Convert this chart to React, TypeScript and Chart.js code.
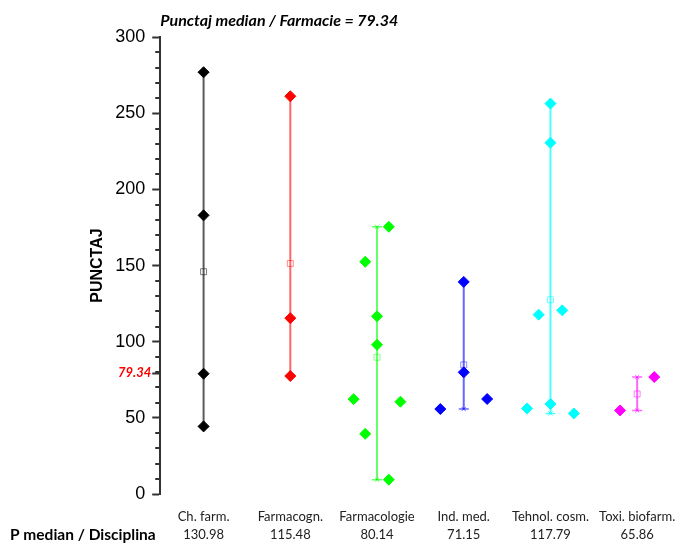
import React, { useEffect, useRef } from 'react';
import { Chart, registerables } from 'chart.js';

Chart.register(...registerables);

// ---- data ----
const categories = ['Ch. farm.', 'Farmacogn.', 'Farmacologie', 'Ind. med.', 'Tehnol. cosm.', 'Toxi. biofarm.'];
const medianLabels = ['130.98', '115.48', '80.14', '71.15', '117.79', '65.86'];
const overallMedian = 79.34;
const yTickValues = [0, 50, 100, 150, 200, 250, 300];
const yMinorValues = [10, 20, 30, 40, 60, 70, 80, 90, 110, 120, 130, 140, 160, 170, 180, 190, 210, 220, 230, 240, 260, 270, 280, 290];

const chFarm = [277, 183, 79, 44.4];
const chFarmJitter = [0, 0, 0, 0];
const farmacogn = [261.2, 115.5, 77.5];
const farmacognJitter = [0, 0, 0];
const farmacologie = [175.5, 152.5, 116.7, 98, 62.3, 60.6, 39.5, 9.4];
const farmacologieJitter = [0.136, -0.136, 0, 0, -0.27, 0.27, -0.136, 0.136];
const indMed = [139.3, 79.9, 55.8, 62.4];
const indMedJitter = [0, 0, -0.27, 0.27];
const tehnolCosm = [256.4, 230.7, 117.8, 120.6, 59.1, 56.2, 52.9];
const tehnolCosmJitter = [0, 0, -0.136, 0.136, 0, -0.27, 0.27];
const toxiBiofarm = [54.9, 76.8];
const toxiBiofarmJitter = [-0.197, 0.197];
const means = [146, 151.4, 89.8, 84.8, 127.6, 65.7];

const groups = [chFarm, farmacogn, farmacologie, indMed, tehnolCosm, toxiBiofarm];
const jitters = [chFarmJitter, farmacognJitter, farmacologieJitter, indMedJitter, tehnolCosmJitter, toxiBiofarmJitter];

// ---- styles ----
const colors = ['#000000', '#ff0000', '#00ff00', '#0000ff', '#00ffff', '#ff00ff'];
const lineColors = [
  'rgba(0,0,0,0.65)',
  'rgba(255,0,0,0.6)',
  'rgba(0,255,0,0.6)',
  'rgba(0,0,255,0.6)',
  'rgba(0,255,255,0.7)',
  'rgba(255,0,255,0.6)',
];
const meanColors = [
  'rgba(0,0,0,0.5)',
  'rgba(255,0,0,0.45)',
  'rgba(0,255,0,0.45)',
  'rgba(0,0,255,0.45)',
  'rgba(0,255,255,0.55)',
  'rgba(255,0,255,0.5)',
];

const X_AXIS_HEIGHT = 49;
const X_TICK_PADDING = 13;
const X_LINE_HEIGHT = 13 * 1.45;
const Y_TICK_LENGTH = 8;
const Y_MINOR_LENGTH = 5;

const extrasPlugin = {
  id: 'extras',
  afterDraw(chart: any) {
    const xs = chart.scales.x;
    const ys = chart.scales.y;
    const ctx = chart.ctx;
    const axisX = chart.chartArea.left;
    ctx.save();
    // minor ticks on the y axis
    ctx.fillStyle = '#333333';
    yMinorValues.forEach((v) => {
      const py = Math.round(ys.getPixelForValue(v));
      ctx.fillRect(axisX - Y_MINOR_LENGTH, py - 1, Y_MINOR_LENGTH, 2);
    });
    // overall median label, set tight against its tick
    ctx.font = 'italic bold 13px Lato';
    ctx.fillStyle = '#ff0000';
    ctx.textAlign = 'right';
    ctx.textBaseline = 'middle';
    ctx.fillText(String(overallMedian), axisX - Y_TICK_LENGTH - 1, ys.getPixelForValue(overallMedian));
    // row header
    ctx.font = 'bold 15.5px Lato';
    ctx.fillStyle = '#000';
    ctx.textAlign = 'left';
    ctx.fillText('P median / Disciplina', 10, xs.top + X_TICK_PADDING + X_LINE_HEIGHT * 1.5);
    ctx.restore();
  },
};

export default function App() {
  const ref = useRef<HTMLCanvasElement>(null);

  useEffect(() => {
    if (!ref.current) return;
    const pointSets: any[] = [];
    const meanSets: any[] = [];
    const whiskerSets: any[] = [];
    const capSets: any[] = [];
    groups.forEach((vals, i) => {
      const lo = Math.min(...vals);
      const hi = Math.max(...vals);
      pointSets.push({
        data: vals.map((v, k) => ({ x: i + jitters[i][k], y: v })),
        pointStyle: 'rectRot',
        pointRadius: 5.5,
        backgroundColor: colors[i],
        borderColor: colors[i],
        borderWidth: 1,
        order: 0,
      });
      meanSets.push({
        data: [{ x: i, y: means[i] }],
        pointStyle: 'rect',
        pointRadius: 4.2,
        backgroundColor: 'rgba(0,0,0,0)',
        borderColor: meanColors[i],
        borderWidth: 1,
        order: 1,
      });
      whiskerSets.push({
        data: [{ x: i, y: lo }, { x: i, y: hi }],
        showLine: true,
        borderColor: lineColors[i],
        borderWidth: 2,
        pointStyle: 'line',
        pointRadius: 5,
        pointBorderColor: lineColors[i],
        pointBorderWidth: 1.5,
        order: 2,
      });
      capSets.push({
        data: [{ x: i, y: lo }, { x: i, y: hi }],
        pointStyle: 'crossRot',
        pointRadius: 3,
        borderColor: lineColors[i],
        borderWidth: 1,
        order: 2,
      });
    });

    const chart = new Chart(ref.current, {
      type: 'scatter',
      data: { datasets: [...pointSets, ...meanSets, ...capSets, ...whiskerSets] },
      options: {
        animation: false,
        responsive: false,
        layout: { padding: { left: 81, right: 2, top: 0, bottom: 0 } },
        plugins: {
          legend: { display: false },
          tooltip: { enabled: false },
          title: {
            display: true,
            text: 'Punctaj median / Farmacie = 79.34',
            align: 'start',
            fullSize: false,
            color: '#000',
            font: { family: 'Lato', size: 16, weight: 'bold', style: 'italic' },
            padding: { top: 11, bottom: 7 },
          },
        },
        scales: {
          x: {
            type: 'linear',
            min: -0.5,
            max: 5.5,
            afterBuildTicks: (s: any) => {
              s.ticks = categories.map((_, i) => ({ value: i }));
            },
            afterFit: (s: any) => {
              s.height = X_AXIS_HEIGHT;
            },
            ticks: {
              autoSkip: false,
              maxRotation: 0,
              padding: X_TICK_PADDING,
              color: '#222',
              font: { family: 'Lato', size: 13, lineHeight: 1.45 },
              callback: (v: any) => [categories[v], medianLabels[v]],
            },
            grid: { display: false, drawTicks: false },
            border: { display: false },
          },
          y: {
            type: 'linear',
            position: 'left',
            min: 0,
            max: 300,
            afterBuildTicks: (s: any) => {
              s.ticks = [...yTickValues, overallMedian].sort((a, b) => a - b).map((v) => ({ value: v }));
            },
            ticks: {
              padding: 7,
              color: '#000',
              font: { family: 'Liberation Sans', size: 18 },
              callback: (v: any) => (v === overallMedian ? '' : String(v)),
            },
            grid: { drawOnChartArea: false, tickLength: Y_TICK_LENGTH, tickWidth: 2, tickColor: '#333' },
            border: { display: true, color: '#333', width: 2 },
            title: {
              display: true,
              text: 'PUNCTAJ',
              color: '#000',
              font: { family: 'Liberation Sans', size: 16, weight: 'bold' },
              padding: { top: 7, bottom: 1 },
            },
          },
        },
      },
      plugins: [extrasPlugin],
    } as any);
    return () => chart.destroy();
  }, []);

  return (
    <div style={{ position: 'fixed', left: 0, top: 0, width: 689, height: 543, background: '#fff' }}>
      <canvas ref={ref} width={689} height={543} style={{ display: 'block' }} />
    </div>
  );
}
